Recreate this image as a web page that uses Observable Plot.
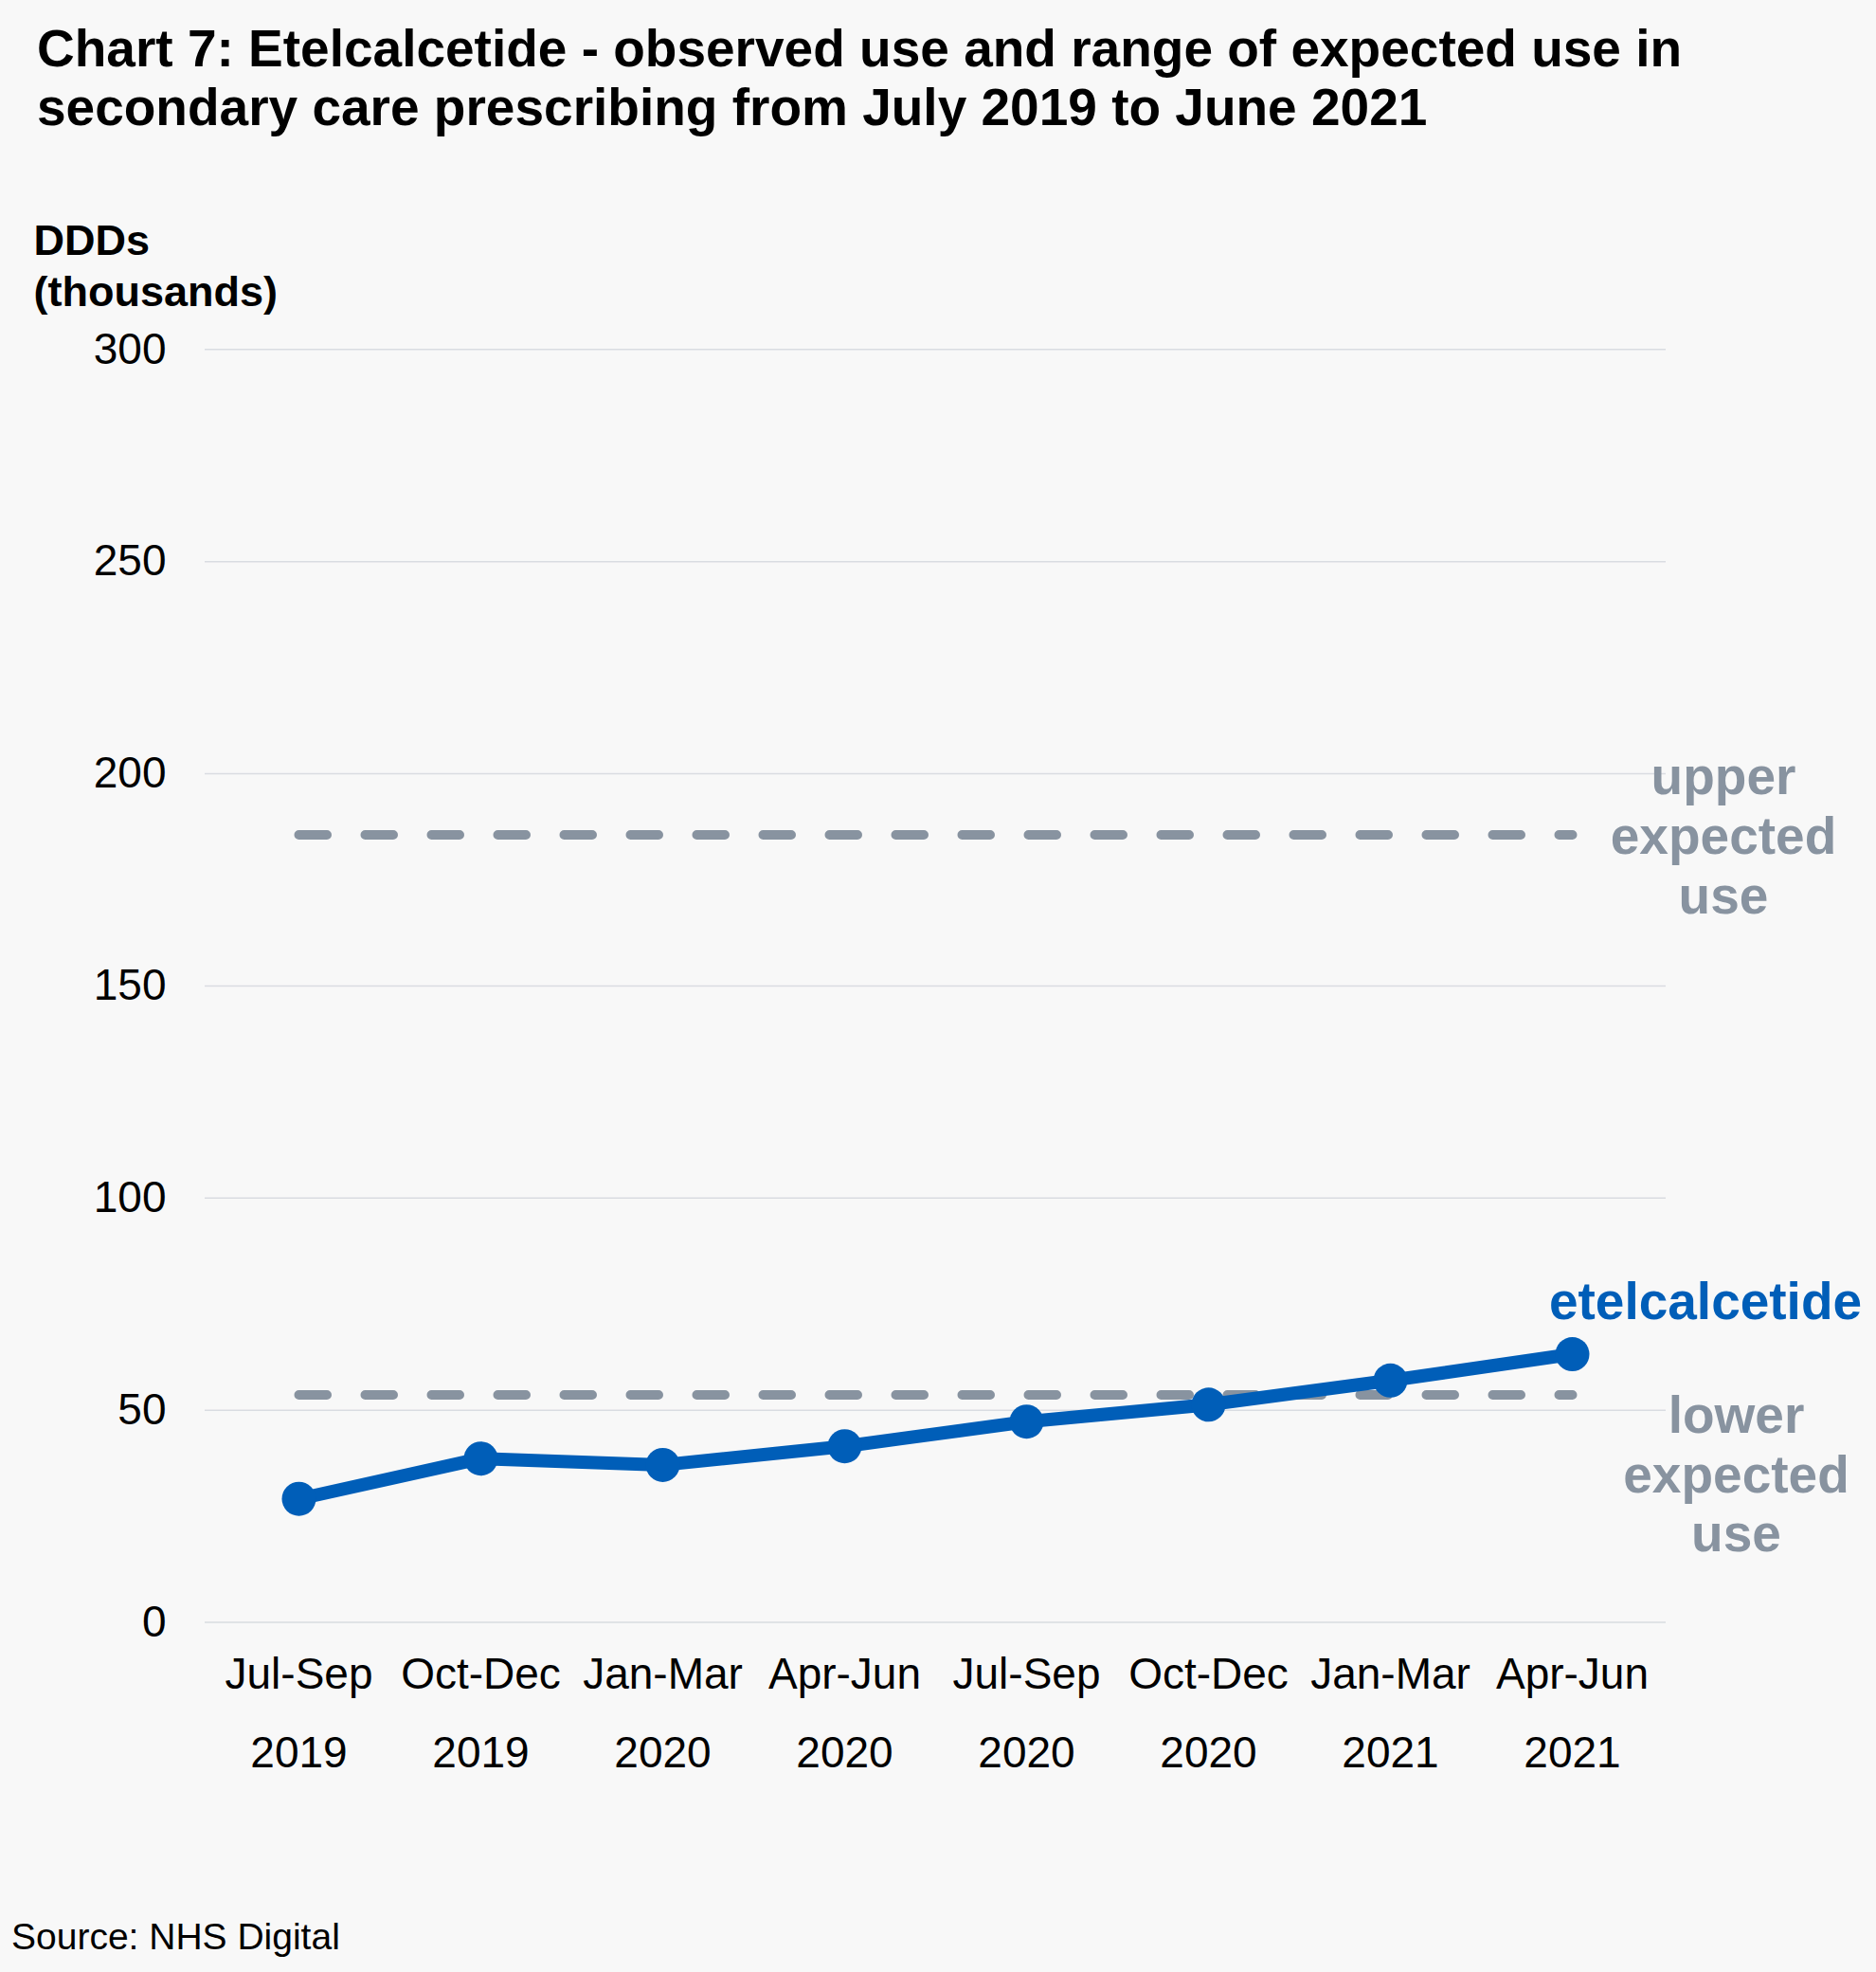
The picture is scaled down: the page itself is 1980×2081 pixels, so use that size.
<!DOCTYPE html>
<html>
<head>
<meta charset="utf-8">
<script src="https://cdn.jsdelivr.net/npm/d3@7"></script>
<script src="https://cdn.jsdelivr.net/npm/@observablehq/plot@0.6"></script>
<style>
  html, body { margin: 0; padding: 0; background: #f8f8f8; }
  #wrap { position: relative; width: 1980px; height: 2081px; background: #f8f8f8;
          font-family: "Liberation Sans", Arial, sans-serif; color: #000; overflow: hidden; }
  #title { position: absolute; left: 39px; top: 20px; margin: 0; font-size: 55px; font-weight: bold;
           line-height: 62px; white-space: nowrap; }
  #chart { position: absolute; left: 0; top: 150px; }
  #source { position: absolute; left: 12px; top: 2024px; font-size: 39px; line-height: 39px; white-space: nowrap; }
</style>
</head>
<body>
<div id="wrap">
  <h2 id="title">Chart 7: Etelcalcetide - observed use and range of expected use in<br>secondary care prescribing from July 2019 to June 2021</h2>
  <div id="chart"></div>
  <div id="source">Source: NHS Digital</div>
</div>
<script>
// ---- data ----
const quarters = ["Jul-Sep", "Oct-Dec", "Jan-Mar", "Apr-Jun", "Jul-Sep", "Oct-Dec", "Jan-Mar", "Apr-Jun"];
const years = ["2019", "2019", "2020", "2020", "2020", "2020", "2021", "2021"];
const observed = [29.1, 38.6, 37.1, 41.5, 47.3, 51.3, 57.0, 63.2];
const upperExpected = 185.6;
const lowerExpected = 53.6;
const yTicks = [0, 50, 100, 150, 200, 250, 300];

const periods = quarters.map((q, i) => q + "\n" + years[i]);
const rows = periods.map((p, i) => ({period: p, value: observed[i]}));
const last = periods[periods.length - 1];

const blue = "#005eb8";
const grey = "#8893a0";
const font = "Liberation Sans, Arial, sans-serif";

const chart = Plot.plot({
  width: 1980,
  height: 1840,
  marginLeft: 216,
  marginRight: 222,
  marginTop: 218.3,
  marginBottom: 278.5,
  style: {background: "transparent", fontFamily: font, color: "#000", overflow: "visible"},
  x: {type: "point", domain: periods, padding: 0.5},
  y: {domain: [0, 300]},
  marks: [
    Plot.ruleY(yTicks, {stroke: "#d9dce1", strokeWidth: 1.5}),
    Plot.axisY({ticks: yTicks, tickSize: 0, tickPadding: 41, fontSize: 46, label: null}),
    Plot.axisX({tickSize: 0, tickPadding: 11, fontSize: 46, lineHeight: 1.8, label: null}),
    Plot.lineY(periods, {x: d => d, y: () => upperExpected, stroke: grey, strokeWidth: 10,
      strokeDasharray: "29.5,40.5", strokeLinecap: "round"}),
    Plot.lineY(periods, {x: d => d, y: () => lowerExpected, stroke: grey, strokeWidth: 10,
      strokeDasharray: "29.5,40.5", strokeLinecap: "round"}),
    Plot.line(rows, {x: "period", y: "value", stroke: blue, strokeWidth: 14, strokeLinejoin: "round"}),
    Plot.dot(rows, {x: "period", y: "value", r: 18, fill: blue, stroke: null}),
    Plot.text([{x: last, y: observed[observed.length - 1]}], {x: "x", y: "y", text: () => "etelcalcetide",
      fill: blue, fontSize: 55, fontWeight: "bold", textAnchor: "start", lineAnchor: "bottom", dx: -24.6, dy: -36.8}),
    Plot.text([{x: last, y: upperExpected}], {x: "x", y: "y", text: () => "upper\nexpected\nuse",
      fill: grey, fontSize: 55, fontWeight: "bold", textAnchor: "middle", lineAnchor: "bottom",
      lineHeight: 1.145, dx: 159.5, dy: 82.8}),
    Plot.text([{x: last, y: lowerExpected}], {x: "x", y: "y", text: () => "lower\nexpected\nuse",
      fill: grey, fontSize: 55, fontWeight: "bold", textAnchor: "middle", lineAnchor: "bottom",
      lineHeight: 1.136, dx: 173, dy: 165.2}),
    Plot.text(["DDDs\n(thousands)"], {frameAnchor: "top-left", text: d => d, fontSize: 45, fontWeight: "bold",
      textAnchor: "start", lineAnchor: "bottom", lineHeight: 1.18, dx: -181, dy: -46.3, fill: "#000"})
  ]
});
document.getElementById("chart").appendChild(chart);
</script>
</body>
</html>
